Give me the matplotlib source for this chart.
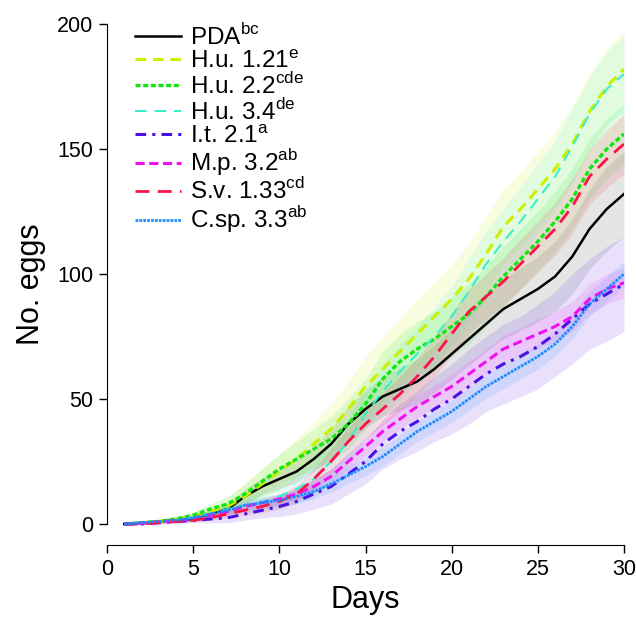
import numpy as np
import matplotlib
matplotlib.use("Agg")
from matplotlib import pyplot as plt

plt.rcParams['font.family'] = ['Liberation Sans', 'DejaVu Sans']
plt.rcParams['mathtext.fontset'] = 'custom'
plt.rcParams['mathtext.rm'] = 'Liberation Sans'

days = list(range(1, 31))

# medias por tratamiento
pda = [0, 0.5, 1, 1.5, 2, 4, 6, 11, 15, 18, 21, 26, 32, 40, 46, 51, 54, 57, 62, 68,
       74, 80, 86, 90, 94, 99, 107, 118, 126, 132]
hu121 = [0, 0.5, 1, 2, 3, 5, 7, 11, 16, 21, 26, 32, 38, 46, 55, 62, 69, 76, 83, 90,
         98, 108, 119, 126, 134, 142, 152, 165, 175, 182]
hu22 = [0, 0.5, 1, 2, 3.5, 6, 8, 12, 17, 22, 26, 30, 34, 40, 48, 58, 65, 70, 74, 79,
        84, 91, 99, 106, 113, 121, 130, 142, 150, 156]
hu34 = [0, 0.5, 1, 1.5, 2.5, 4, 6, 7.5, 9, 11, 14, 18, 25, 33, 44, 53, 61, 68, 75, 83,
        93, 104, 113, 121, 130, 139, 151, 164, 174, 180]
it21 = [0, 0, 0.5, 1, 1.5, 2, 2.5, 4, 5.5, 7, 9, 12, 15, 20, 25, 32, 37, 41, 46, 50,
        55, 60, 64, 67, 71, 76, 82, 88, 92, 96]
mp32 = [0, 0.3, 0.8, 1.5, 2, 3.5, 5, 7, 8.5, 10, 12, 15, 19, 25, 31, 37, 42, 47, 51, 55,
        60, 65, 70, 73, 76, 79, 83, 90, 94, 96.5]
sv133 = [0, 0, 0.5, 1, 1.5, 2.5, 4, 5.5, 7, 9, 12, 18, 25, 33, 40, 46, 52, 59, 67, 76,
         85, 91, 97, 104, 111, 118, 127, 139, 146, 152]
csp33 = [0, 0.5, 1, 1.5, 2.5, 4, 5.5, 7.5, 8.5, 9.5, 11, 13, 16, 19.5, 23, 27, 32, 37, 41, 45,
         50, 55, 59, 63, 67, 72, 79, 88, 94, 100]

# errores estandar
pda_se = [0, 0.3, 0.5, 0.8, 1, 1.5, 2, 3, 3.5, 4, 4.5, 5, 6, 7, 7.5, 8, 8.5, 9, 9.5, 10,
          10.5, 11, 12, 12.5, 13, 14, 15, 16, 17, 17]
hu121_se = [0, 0.3, 0.6, 1, 1.5, 2.5, 3.5, 5, 6, 7, 8, 9, 10, 11, 12, 13, 13, 14, 14, 14,
            14, 15, 15, 15, 15, 15, 15, 15, 15, 15]
hu22_se = [0, 0.3, 0.6, 1, 1.5, 2, 3, 4, 5, 6, 7, 8, 9, 10, 10, 11, 11, 11, 11, 12,
           12, 12, 12, 12, 12, 12, 12, 12, 12, 12]
hu34_se = [0, 0.3, 0.5, 0.8, 1, 1.5, 2, 3, 4, 5, 6, 7, 8, 9, 10, 10, 11, 11, 12, 12,
           13, 13, 13, 14, 14, 14, 15, 15, 15, 15]
it21_se = [0, 0.3, 0.5, 0.8, 1, 1.5, 2, 2.5, 3, 4, 5, 6, 7, 8, 9, 10, 11, 12, 13, 14,
           15, 15, 16, 16, 17, 17, 18, 18, 19, 19]
mp32_se = [0, 0.2, 0.3, 0.5, 0.7, 1, 1.2, 1.5, 1.8, 2, 2.3, 2.6, 3, 3.3, 3.6, 4, 4, 4.5, 4.5, 5,
           5, 5, 5.5, 5.5, 6, 6, 6, 6, 6, 6]
sv133_se = [0, 0.2, 0.4, 0.6, 0.8, 1, 1.5, 2, 2.5, 3, 3.5, 4, 5, 5.5, 6, 6.5, 7, 7.5, 8, 8.5,
            9, 9, 9.5, 10, 10, 10.5, 11, 11, 11.5, 12]
csp33_se = [0, 0.3, 0.5, 0.7, 1, 1.3, 1.6, 2, 2.2, 2.5, 2.8, 3, 3.2, 3.4, 3.6, 3.8, 4, 4, 4.2, 4.4,
            4.6, 4.8, 5, 5, 5, 5, 5, 5, 5, 5]

labels = [r'PDA$^{\mathrm{bc}}$', r'H.u. 1.21$^{\mathrm{e}}$', r'H.u. 2.2$^{\mathrm{cde}}$',
          r'H.u. 3.4$^{\mathrm{de}}$', r'I.t. 2.1$^{\mathrm{a}}$', r'M.p. 3.2$^{\mathrm{ab}}$',
          r'S.v. 1.33$^{\mathrm{cd}}$', r'C.sp. 3.3$^{\mathrm{ab}}$']
colors = ['black', '#ccf000', '#11e611', '#33f0c8', '#4a10e6', '#f010f0', '#ff1048', '#1e8cff']
styles = [dict(ls='-', lw=1.8),
          dict(ls=(0, (3.5, 2.2)), lw=2.2),
          dict(ls=(0, (1.5, 0.8)), lw=2.4),
          dict(ls=(0, (6, 4)), lw=1.4),
          dict(ls=(0, (3.5, 2, 1, 2)), lw=2.2),
          dict(ls=(0, (3, 1.5)), lw=2.2),
          dict(ls=(0, (5, 3)), lw=2.0),
          dict(ls=(0, (1, 0.4)), lw=2.0)]

series = [pda, hu121, hu22, hu34, it21, mp32, sv133, csp33]
errors = [pda_se, hu121_se, hu22_se, hu34_se, it21_se, mp32_se, sv133_se, csp33_se]

fig = plt.figure(figsize=(6.36, 6.19), dpi=100)
ax = fig.add_axes([107 / 636, 74 / 619, 517 / 636, 521 / 619])

x = np.array(days)
for m, se, c in zip(series, errors, colors):
    m = np.array(m)
    se = np.array(se)
    ax.fill_between(x, m - se, m + se, color=c if c != 'black' else 'gray',
                    alpha=0.12 if c != 'black' else 0.2, lw=0)

handles = []
for m, c, st, lab in zip(series, colors, styles, labels):
    h, = ax.plot(x, m, color=c, label=lab, **st)
    handles.append(h)

ax.set_xlim(0, 30)
ax.set_ylim(-8.4, 200)
ax.spines['top'].set_visible(False)
ax.spines['right'].set_visible(False)
ax.spines['left'].set_bounds(0, 200)
ax.spines['bottom'].set_bounds(0, 30)
ax.set_xticks([0, 5, 10, 15, 20, 25, 30])
ax.set_yticks([0, 50, 100, 150, 200])
ax.tick_params(direction='out', length=6, width=1, labelsize=15.5, pad=4)
ax.set_xlabel('Days', fontsize=22, labelpad=4)
ax.set_ylabel('No. eggs', fontsize=22, labelpad=8)

leg = ax.legend(handles=handles, loc='upper left', bbox_to_anchor=(135 / 636, 1 - 24 / 619),
                bbox_transform=fig.transFigure, frameon=False, fontsize=17.5,
                handlelength=1.9, handletextpad=0.37, labelspacing=0.0, borderpad=0,
                borderaxespad=0)

fig.savefig('out.png', dpi=100)
